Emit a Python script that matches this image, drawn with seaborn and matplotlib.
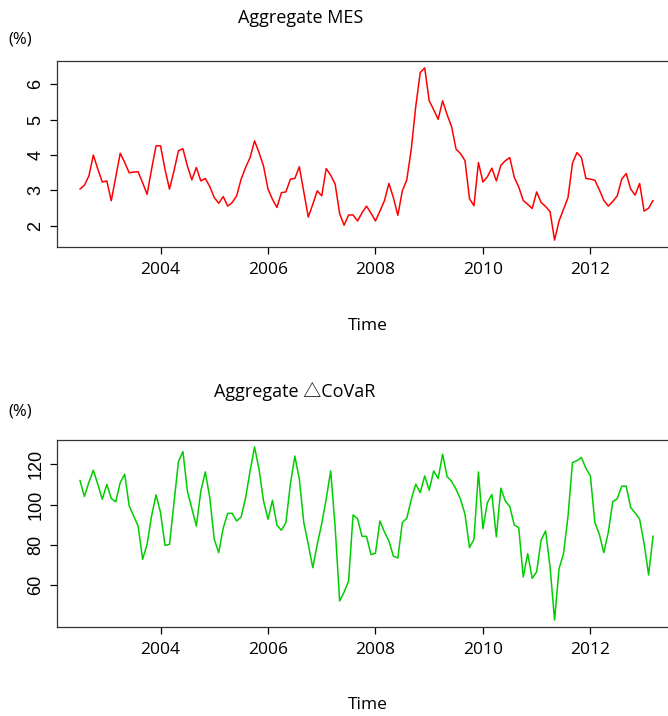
import numpy as np
import pandas as pd
import matplotlib
matplotlib.use("Agg")
import matplotlib.pyplot as plt
import seaborn as sns

# Monthly series, July 2002 .. March 2013
start_year = 2002
start_month = 7
mes = [3.04, 3.15, 3.41, 4.00, 3.60, 3.24, 3.27, 2.71, 3.38, 4.05, 3.79, 3.50,
       3.52, 3.53, 3.22, 2.89, 3.60, 4.26, 4.26, 3.60, 3.04, 3.55, 4.12, 4.18,
       3.69, 3.30, 3.65, 3.27, 3.34, 3.11, 2.80, 2.64, 2.83, 2.56, 2.66, 2.85,
       3.32, 3.65, 3.93, 4.40, 4.07, 3.69, 3.04, 2.75, 2.52, 2.94, 2.96, 3.32,
       3.34, 3.67, 2.96, 2.25, 2.61, 2.99, 2.85, 3.62, 3.43, 3.18, 2.35, 2.02,
       2.31, 2.31, 2.14, 2.37, 2.56, 2.36, 2.14, 2.42, 2.71, 3.20, 2.80, 2.30,
       2.99, 3.30, 4.17, 5.37, 6.33, 6.46, 5.53, 5.28, 5.01, 5.53, 5.14, 4.80,
       4.17, 4.04, 3.84, 2.77, 2.57, 3.79, 3.24, 3.39, 3.63, 3.27, 3.71, 3.84,
       3.93, 3.37, 3.10, 2.72, 2.61, 2.49, 2.96, 2.66, 2.55, 2.40, 1.60, 2.14,
       2.47, 2.80, 3.77, 4.07, 3.93, 3.34, 3.32, 3.29, 3.02, 2.72, 2.56, 2.69,
       2.85, 3.32, 3.48, 3.04, 2.87, 3.20, 2.42, 2.50, 2.72]
covar = [112.0, 104.0, 111.0, 117.0, 110.0, 102.6, 110.0, 103.0, 101.3, 110.9, 115.0, 99.3,
         94.3, 89.3, 72.8, 80.2, 94.3, 104.8, 96.0, 79.7, 80.2, 101.0, 121.3, 126.3,
         106.7, 98.1, 89.3, 106.7, 116.2, 103.4, 82.7, 76.1, 88.3, 95.6, 95.6, 91.8,
         93.8, 103.4, 116.7, 128.6, 117.5, 101.8, 92.7, 102.1, 89.7, 87.2, 91.0, 110.2,
         124.1, 112.5, 91.0, 80.2, 68.6, 80.2, 90.5, 102.8, 116.7, 88.7, 52.1, 56.5,
         62.0, 94.8, 93.0, 84.2, 84.2, 75.1, 75.8, 91.8, 86.4, 81.9, 74.4, 73.4,
         91.0, 93.2, 102.6, 110.1, 105.9, 114.2, 107.1, 116.7, 112.9, 125.0, 113.9, 111.5,
         107.6, 102.6, 95.1, 78.6, 82.7, 116.2, 88.0, 101.0, 105.0, 83.9, 108.1, 101.8,
         99.0, 89.8, 88.5, 64.0, 75.6, 63.3, 66.6, 82.4, 86.9, 68.9, 42.6, 68.1,
         75.6, 94.1, 120.8, 121.8, 123.3, 118.0, 114.2, 91.0, 85.2, 76.1, 86.2, 101.4,
         102.9, 109.1, 109.1, 98.5, 95.8, 92.7, 80.6, 65.0, 84.4]

x_ticks = [2004, 2006, 2008, 2010, 2012]
mes_ticks = [2, 3, 4, 5, 6]
covar_ticks = [60, 80, 100, 120]
titles = ["Aggregate MES", "Aggregate \u25B3CoVaR"]

n = len(mes)
time = start_year + (start_month - 1) / 12 + np.arange(n) / 12
df = pd.DataFrame({"time": time, "mes": mes, "covar": covar})

sns.set_theme(style="ticks")
plt.rcParams["text.color"] = "black"
plt.rcParams["xtick.color"] = "black"
plt.rcParams["ytick.color"] = "black"
label_font = ["Open Sans", "Noto Sans CJK KR", "DejaVu Sans"]
ytick_font = "Liberation Sans"

W, H = 668, 716
fig = plt.figure(figsize=(W / 100, H / 100), dpi=100)

def px_axes(left, top, right, bottom):
    return fig.add_axes([left / W, 1 - bottom / H, (right - left) / W, (bottom - top) / H])

ax1 = px_axes(57, 61, 676, 247)
ax2 = px_axes(57, 440, 676, 627)

def rlim(vals):
    lo, hi = min(vals), max(vals)
    pad = 0.04 * (hi - lo)
    return lo - pad, hi + pad

for ax, col, color, yt in [(ax1, "mes", "#FF0000", mes_ticks),
                           (ax2, "covar", "#00CD00", covar_ticks)]:
    sns.lineplot(data=df, x="time", y=col, ax=ax, color=color, linewidth=1.1)
    ax.set_xlim(*rlim(time))
    ax.set_ylim(*rlim(df[col]))
    ax.set_xticks(x_ticks)
    ax.set_yticks(yt)
    ax.set_xticklabels([str(t) for t in x_ticks], fontfamily=label_font,
                       fontsize=12.5, color="black")
    ax.set_yticklabels([str(t) for t in yt], fontfamily=ytick_font, fontsize=13,
                       rotation=90, va="center", color="black")
    ax.tick_params(direction="out", length=5, width=0.9, color="black", pad=4)
    ax.tick_params(axis="x", pad=6)
    ax.set_xlabel("")
    ax.set_ylabel("")
    for s in ax.spines.values():
        s.set_visible(True)
        s.set_color("#333333")
        s.set_linewidth(0.9)
    ax.set_facecolor("white")

# titles and labels
fig.text(301 / W, 1 - 18 / H, titles[0], ha="center", va="center",
         fontsize=13, fontfamily=label_font, color="black")
fig.text(295 / W, 1 - 392 / H, titles[1], ha="center", va="center",
         fontsize=13, fontfamily=label_font, color="black")
fig.text(20 / W, 1 - 40 / H, "(%)", ha="center", va="center",
         fontsize=12, fontfamily=label_font, color="black")
fig.text(20 / W, 1 - 411 / H, "(%)", ha="center", va="center",
         fontsize=12, fontfamily=label_font, color="black")
fig.text(368 / W, 1 - 326 / H, "Time", ha="center", va="center",
         fontsize=12.5, fontfamily=label_font, color="black")
fig.text(368 / W, 1 - 705 / H, "Time", ha="center", va="center",
         fontsize=12.5, fontfamily=label_font, color="black")

fig.savefig("out.png", dpi=100, facecolor="white")
